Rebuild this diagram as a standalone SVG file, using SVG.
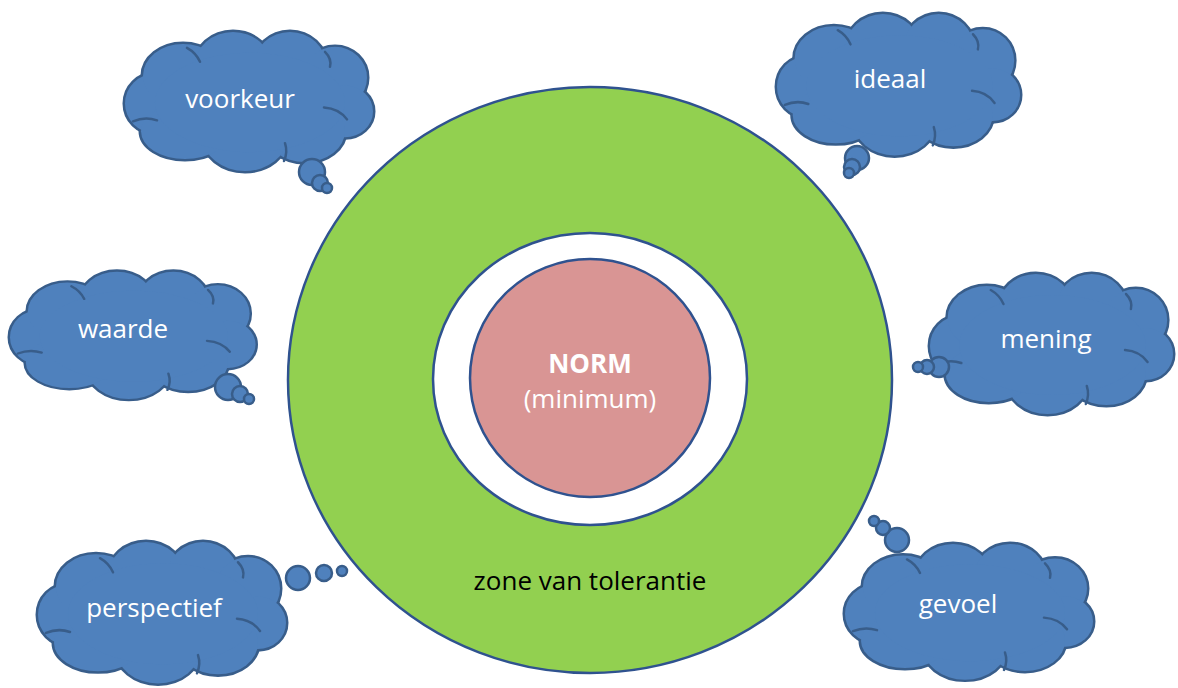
<svg xmlns="http://www.w3.org/2000/svg" xmlns:xlink="http://www.w3.org/1999/xlink" width="1178" height="688" viewBox="0 0 1178 688">
  <style>
    .lbl { font-family: "Open Sans", "Liberation Sans", sans-serif; font-size: 26px; fill: #ffffff; text-anchor: middle; }
    .dark { fill: #000000; }
    .bold { font-weight: bold; }
    .bub { fill: #4F81BD; stroke: #385D8A; stroke-width: 2.5; }
    .crease { fill: none; stroke: #385D8A; stroke-width: 2.5; stroke-linecap: round; }
    .ring { stroke: #2F528F; stroke-width: 2.5; }
  </style>
  <defs>
    <g id="lobes">
      <ellipse cx="30" cy="76" rx="30" ry="30"/>
      <ellipse cx="58" cy="48" rx="40" ry="32"/>
      <ellipse cx="108" cy="38" rx="38" ry="34"/>
      <ellipse cx="165" cy="38" rx="36" ry="34"/>
      <ellipse cx="210" cy="50" rx="32" ry="31"/>
      <ellipse cx="220" cy="84" rx="28" ry="26"/>
      <ellipse cx="180" cy="104" rx="40" ry="31"/>
      <ellipse cx="120" cy="110" rx="42" ry="34"/>
      <ellipse cx="60" cy="104" rx="44" ry="28"/>
      <ellipse cx="125" cy="75" rx="95" ry="50"/>
    </g>
    <g id="cloud">
      <use xlink:href="#lobes" fill="#4F81BD" stroke="#385D8A" stroke-width="5"/>
      <use xlink:href="#lobes" fill="#4F81BD" stroke="none"/>
      <path class="crease" d="M 8 94 Q 20 89 32 93"/>
      <path class="crease" d="M 62 20 Q 71 25 75 34"/>
      <path class="crease" d="M 200 24 Q 207 31 205 39"/>
      <path class="crease" d="M 199 80 Q 214 81 222 92"/>
      <path class="crease" d="M 160 116 Q 163 125 159 134"/>
    </g>
  </defs>

  <rect x="0" y="0" width="1178" height="688" fill="#ffffff"/>

  <g id="zone">
    <ellipse class="ring" cx="590" cy="380" rx="302" ry="293" fill="#92D050"/>
    <text class="lbl dark" x="590" y="590">zone van tolerantie</text>
  </g>
  <g id="white-ring">
    <ellipse class="ring" cx="590" cy="379" rx="157" ry="146" fill="#ffffff"/>
  </g>
  <g id="norm">
    <ellipse class="ring" cx="590" cy="378" rx="120" ry="119" fill="#D99594"/>
    <text class="lbl bold" x="590" y="373" font-size="27">NORM</text>
    <text class="lbl" x="590" y="408">(minimum)</text>
  </g>

  <g id="connectors"></g>

  <g id="voorkeur">
    <use xlink:href="#cloud" transform="translate(125,28) scale(1,0.993)"/>
    <circle class="bub" cx="312" cy="172" r="13"/>
    <circle class="bub" cx="320" cy="183" r="8"/>
    <circle class="bub" cx="327" cy="188" r="5"/>
    <text class="lbl" x="240" y="108">voorkeur</text>
  </g>

  <g id="ideaal">
    <use xlink:href="#cloud" transform="translate(777,10) scale(0.98,1.01)"/>
    <circle class="bub" cx="857" cy="158" r="12"/>
    <circle class="bub" cx="852" cy="167" r="8"/>
    <circle class="bub" cx="849" cy="173" r="5"/>
    <text class="lbl" x="890" y="88">ideaal</text>
  </g>

  <g id="waarde">
    <use xlink:href="#cloud" transform="translate(10,268) scale(0.99,0.91)"/>
    <circle class="bub" cx="228" cy="387" r="13"/>
    <circle class="bub" cx="240" cy="394" r="8"/>
    <circle class="bub" cx="249" cy="399" r="5"/>
    <text class="lbl" x="123" y="338">waarde</text>
  </g>

  <g id="mening">
    <use xlink:href="#cloud" transform="translate(930,270) scale(0.98,1)"/>
    <circle class="bub" cx="939" cy="367" r="10"/>
    <circle class="bub" cx="927" cy="367" r="7"/>
    <circle class="bub" cx="918" cy="367" r="5"/>
    <text class="lbl" x="1046" y="348">mening</text>
  </g>

  <g id="perspectief">
    <use xlink:href="#cloud" transform="translate(38,538) scale(1.0,1.01)"/>
    <circle class="bub" cx="298" cy="578" r="12"/>
    <circle class="bub" cx="324" cy="573" r="8"/>
    <circle class="bub" cx="342" cy="571" r="5"/>
    <text class="lbl" x="154" y="617">perspectief</text>
  </g>

  <g id="gevoel">
    <use xlink:href="#cloud" transform="translate(845,540) scale(1,0.97)"/>
    <circle class="bub" cx="897" cy="540" r="12"/>
    <circle class="bub" cx="883" cy="528" r="7"/>
    <circle class="bub" cx="874" cy="521" r="5"/>
    <text class="lbl" x="958" y="613">gevoel</text>
  </g>
</svg>
